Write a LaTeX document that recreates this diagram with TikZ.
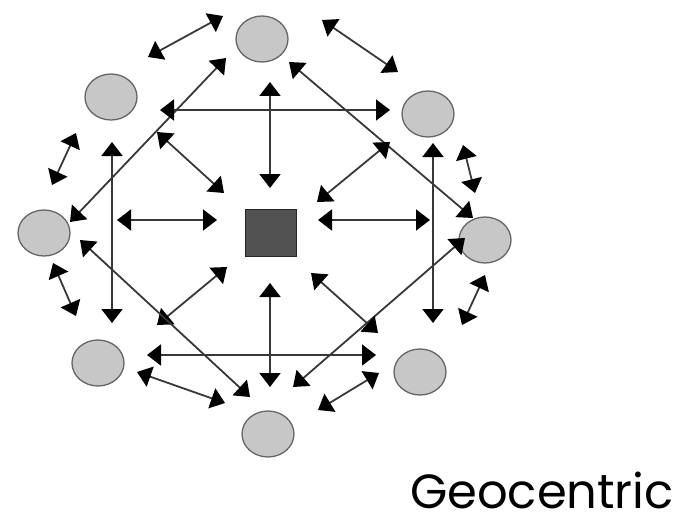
\documentclass[tikz,border=0pt]{standalone}
\usepackage{fontspec}
\newfontfamily\labelfont{Poppins}
\usetikzlibrary{shapes.geometric, arrows.meta}

\begin{document}
\begin{tikzpicture}[
        % one unit is one pixel of the layout, y grows downwards
        x=1pt, y=-1pt,
        % Define styles for the nodes
        planet/.style={ellipse, draw=black!60, fill=black!22, line width=1.3pt, minimum width=52pt, minimum height=46pt, inner sep=0pt},
        hub/.style={draw=black!85, fill=black!68, line width=1.3pt, minimum width=51pt, minimum height=47pt, inner sep=0pt},
        link/.style={{Triangle[length=14pt, width=21pt, color=black]}-{Triangle[length=14pt, width=21pt, color=black]}, line width=1.8pt, draw=black!78}
    ]

    % fixed frame
    \useasboundingbox (0,0) rectangle (678,527);

    % centre block
    \node (hub) [hub] at (271,233) {};

    % the eight planets
    \node (n)  [planet] at (262,39)  {};
    \node (nw) [planet] at (111,97)  {};
    \node (ne) [planet] at (428,114) {};
    \node (w)  [planet] at (44,233)  {};
    \node (e)  [planet] at (485,240) {};
    \node (sw) [planet] at (98,363)  {};
    \node (se) [planet] at (420,372) {};
    \node (s)  [planet] at (268,434) {};

    % double arrows, each between two named end points
    \foreach \i/\ax/\ay/\bx/\by in {
        1/148/57/223/16,   2/322/20/398/72,   3/226/58/70/222,
        4/160/110/390/110, 5/289/62/473/218,  6/270/82/270/188,
        7/76/133/52/185,   8/112/142/112/323, 9/157/132/224/193,
        10/117/220/217/220, 11/318/220/430/220, 12/317/202/390/142,
        13/433/143/433/323, 14/463/145/475/193, 15/462/325/485/275,
        16/465/238/293/387, 17/311/273/378/333, 18/147/355/376/355,
        19/318/410/379/373, 20/270/283/270/387, 21/157/325/227/267,
        22/80/240/250/397,  23/53/263/76/316,  24/137/372/225/403} {
        \coordinate (from\i) at (\ax,\ay);
        \coordinate (to\i) at (\bx,\by);
        \draw [link] (from\i) -- (to\i);
    }

    % caption
    \node (title) [anchor=base east, inner sep=0pt] at (674,508) {\labelfont\fontsize{48}{52}\selectfont Geocentric};

\end{tikzpicture}
\end{document}
